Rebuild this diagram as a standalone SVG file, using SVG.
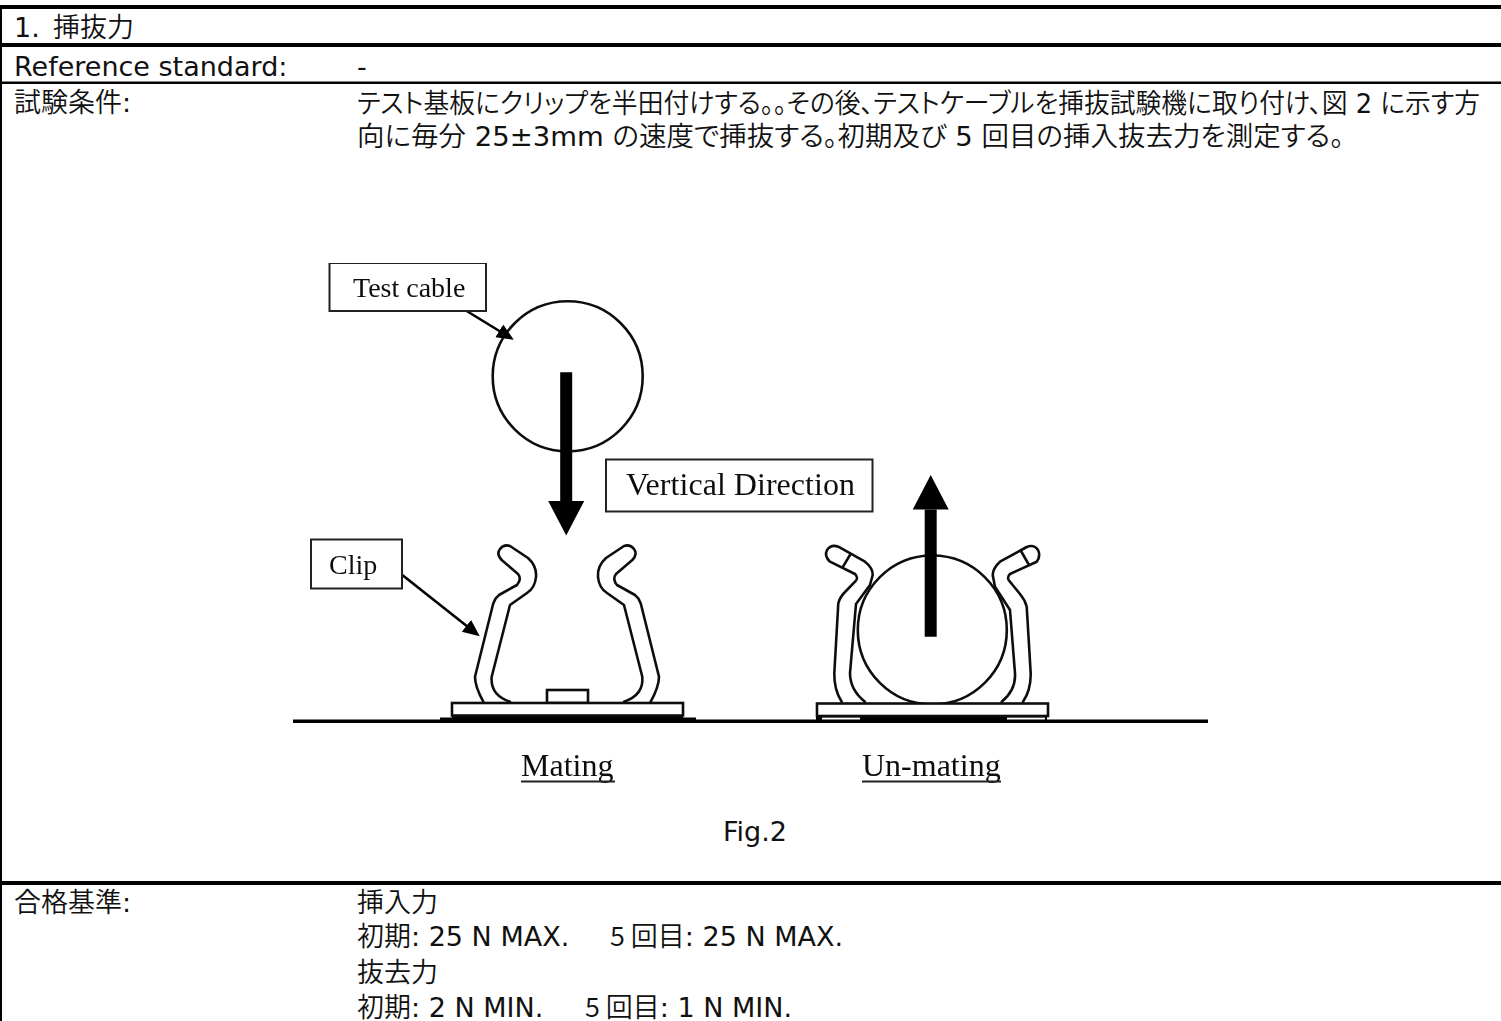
<svg xmlns="http://www.w3.org/2000/svg" xmlns:xlink="http://www.w3.org/1999/xlink" width="1501" height="1021" viewBox="0 0 1501 1021">
<style>
.t{font-family:"DejaVu Sans","Noto Sans CJK JP",sans-serif;font-size:27px;fill:#111;font-feature-settings:"palt"}
.j{font-family:"Noto Sans CJK JP","DejaVu Sans",sans-serif;font-weight:350}
.s{font-family:"Liberation Serif",serif;fill:#111}
.box{fill:#fff;stroke:#222;stroke-width:2}
.o{fill:none;stroke:#111;stroke-width:2.6;stroke-linejoin:round;stroke-linecap:round}
.plate{fill:#fff;stroke:#111;stroke-width:2.6}
.lead{stroke:#000;stroke-width:2.6;fill:none}
.big{stroke:#000;stroke-width:12;fill:none}
</style>
<defs>
<marker id="head-s" markerUnits="userSpaceOnUse" markerWidth="20" markerHeight="20" viewBox="0 0 20 20" refX="2" refY="10" orient="auto"><path d="M0 2.5L17 10L0 17.5z" fill="#000"/></marker>
<marker id="head-b" markerUnits="userSpaceOnUse" markerWidth="36" markerHeight="36" viewBox="0 0 36 36" refX="0" refY="18" orient="auto"><path d="M0 0L34.500 18L0 36z" fill="#000"/></marker>
<path id="clip-a" d="M483.300 701.700C478 692 475 685 475 676.700L493.300 603.300Q495 598 499 595L517 585Q522 579 518 574L501.700 560Q496 554 500 549Q504 544 510 546L528 558Q537 566 536 577Q535 588 527 593L510 605L491.700 676.700Q490 695 510 701.700" class="o"/>
<filter id="soft" x="0" y="0" width="1" height="1"><feGaussianBlur stdDeviation="0.35"/></filter>
</defs>
<rect width="1501" height="1021" fill="#fff"/>
<g id="table">
<rect x="0" y="5" width="1501" height="4" fill="#000"/>
<rect x="0" y="43" width="1501" height="4" fill="#000"/>
<rect x="0" y="81.500" width="1501" height="2.500" fill="#000"/>
<rect x="0" y="881" width="1501" height="4" fill="#000"/>
<rect x="0" y="5" width="2" height="1016" fill="#000"/>
</g>
<g id="table-text">
<text class="t" x="14" y="37">1.<tspan class="j" x="53">挿抜力</tspan></text>
<text class="t" x="14" y="76">Reference standard:</text>
<text class="t" x="357" y="76">-</text>
<text class="t" x="14" y="112"><tspan class="j">試験条件</tspan>:</text>
<text class="t" x="357" y="113" textLength="1123" lengthAdjust="spacingAndGlyphs"><tspan class="j">テスト基板にクリップを半田付けする。。その後、テストケーブルを挿抜試験機に取り付け、図</tspan> 2 <tspan class="j">に示す方</tspan></text>
<text class="t" x="357" y="146" textLength="987" lengthAdjust="spacingAndGlyphs"><tspan class="j">向に毎分</tspan> 25±3mm <tspan class="j">の速度で挿抜する。初期及び</tspan> 5 <tspan class="j">回目の挿入抜去力を測定する。</tspan></text>
<text class="t" x="723" y="841">Fig.2</text>
<text class="t" x="14" y="912"><tspan class="j">合格基準</tspan>:</text>
<text class="t j" x="357" y="912">挿入力</text>
<text class="t" x="357" y="946"><tspan class="j">初期</tspan>: 25 N MAX.<tspan class="j" x="610">5 回目</tspan>: 25 N MAX.</text>
<text class="t j" x="357" y="982">抜去力</text>
<text class="t" x="357" y="1017"><tspan class="j">初期</tspan>: 2 N MIN.<tspan class="j" x="585">5 回目</tspan>: 1 N MIN.</text>
</g>
<g id="figure" filter="url(#soft)">
<g id="ground"><rect x="293" y="719.500" width="915" height="3.500" fill="#000"/></g>
<g id="test-cable-circle"><circle cx="567.700" cy="376.300" r="75" class="o"/></g>
<g id="clip-mating">
<use xlink:href="#clip-a" href="#clip-a"/>
<use xlink:href="#clip-a" href="#clip-a" transform="translate(1134 0) scale(-1 1)"/>
<rect x="547" y="690" width="41" height="13" class="plate"/>
<rect x="440" y="717.500" width="256" height="5" fill="#000"/>
<rect x="452" y="715" width="231" height="8" fill="#000"/>
<rect x="452" y="703" width="231" height="12.500" class="plate"/>
</g>
<g id="clip-unmating">
<path class="o" d="M841.700 701.700Q834 690 834.300 673.300L838.300 603.300Q840 597 845 592L855 581.700Q859 578 855 574L830 561.700Q824 556 827 550Q831 544 838.300 546.700L865 561.700Q873 568 872.700 575L870 585L856 604L850 673Q850 690 865 701.700"/>
<path class="o" d="M850 555L843 566.700"/>
<path class="o" d="M1023 701.700Q1031 690 1030.700 673.300L1026.700 606.700Q1025 600 1020 594L1010 581.700Q1006 578 1010 574L1036.700 561.700Q1041 556 1038 550Q1034 544 1026.700 547L1000 561.700Q993 568 992.700 575L995 586.700L1010 610L1015 673.300Q1016 690 1001.700 701.700"/>
<path class="o" d="M1021 551L1029 565"/>
<circle cx="932.300" cy="630" r="74.500" class="o" style="fill:#fff"/>
<rect x="816" y="716" width="231" height="7" fill="#000"/>
<rect x="822" y="717.500" width="38" height="2" fill="#fff"/>
<rect x="1007" y="717.500" width="38" height="2" fill="#fff"/>
<rect x="817" y="703.500" width="231" height="12.500" class="plate"/>
</g>
<g id="connectors">
<line class="lead" x1="466.700" y1="311" x2="501" y2="332" marker-end="url(#head-s)"/>
<line class="lead" x1="402.300" y1="575" x2="468" y2="627" marker-end="url(#head-s)"/>
<line class="big" x1="566.200" y1="372.300" x2="566.200" y2="501" marker-end="url(#head-b)"/>
<line class="big" x1="930.700" y1="636.700" x2="930.700" y2="509.500" marker-end="url(#head-b)"/>
</g>
<g id="label-test-cable"><rect class="box" x="329.500" y="263" width="156.500" height="48"/><text class="s" x="353" y="297" font-size="28">Test cable</text></g>
<g id="label-clip"><rect class="box" x="311" y="539.500" width="91" height="49"/><text class="s" x="329" y="574" font-size="28">Clip</text></g>
<g id="label-direction"><rect class="box" x="606" y="459.500" width="266.500" height="52"/><text class="s" x="626" y="495" font-size="32" textLength="229" lengthAdjust="spacing">Vertical Direction</text></g>
<g id="label-mating"><text class="s" x="521" y="776" font-size="32">Mating</text><line x1="521" y1="781.500" x2="615" y2="781.500" stroke="#222" stroke-width="1.800"/></g>
<g id="label-unmating"><text class="s" x="862" y="776" font-size="32">Un-mating</text><line x1="862" y1="781.500" x2="1001" y2="781.500" stroke="#222" stroke-width="1.800"/></g>
</g>
</svg>
